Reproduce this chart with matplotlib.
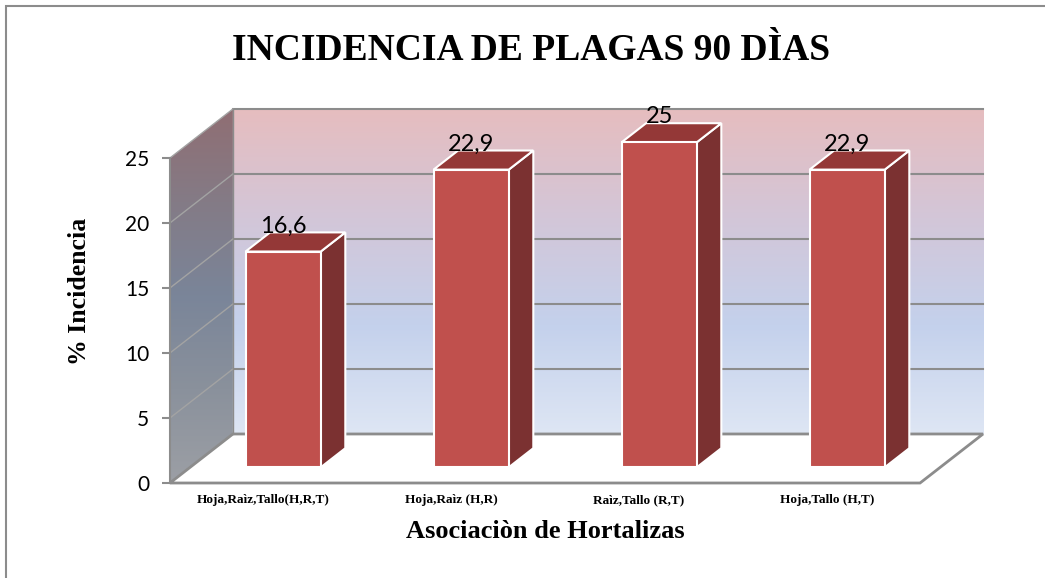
import numpy as np
import matplotlib.pyplot as plt
from matplotlib.colors import LinearSegmentedColormap
from matplotlib.patches import Polygon, Rectangle

# data
categorias = ["Hoja,Raìz,Tallo(H,R,T)", "Hoja,Raìz (H,R)", "Raìz,Tallo (R,T)", "Hoja,Tallo (H,T)"]
incidencia = [16.6, 22.9, 25, 22.9]
etiquetas = ["16,6", "22,9", "25", "22,9"]
yticks = [0, 5, 10, 15, 20, 25]

# 3d look: depth offsets in data units
DX = 0.335    # depth shift along x
DY = 3.77     # depth shift along y
F0 = 0.32     # where the bar front sits in depth
FB = 0.39     # bar depth
W = 0.40      # bar width
XL, XR = -0.495, 3.495
YMAX = 25

fig = plt.figure(figsize=(10.45, 5.78), dpi=100)
ax = fig.add_axes([0, 0, 1, 1])
ax.set_xlim(-263 / 188, (1045 - 263) / 188)
ax.set_ylim(-95 / 13, 483 / 13)

# outer frame (only top and left visible)
fig.patches.append(Rectangle((6 / 1045, -0.1), 1.2, 1.1 - 6 / 578, transform=fig.transFigure,
                             fill=False, edgecolor="#8C8C8C", lw=1.5))

# back wall gradient
back = LinearSegmentedColormap.from_list("back", ["#DEE6F4", "#C4D1EC", "#D3C6D8", "#E6BDBF"])
grad = np.linspace(0, 1, 256).reshape(-1, 1)
ax.imshow(grad, cmap=back, origin="lower", aspect="auto",
          extent=[XL + DX, XR + DX, DY, YMAX + DY], zorder=1)

# left wall gradient, clipped to parallelogram
left = LinearSegmentedColormap.from_list("left", ["#9C9FA5", "#8A919C", "#7A8599", "#847B86", "#906E73"])
lw_poly = Polygon([(XL, 0), (XL, YMAX), (XL + DX, YMAX + DY), (XL + DX, DY)],
                  closed=True, facecolor="none", edgecolor="none")
ax.add_patch(lw_poly)
im = ax.imshow(grad, cmap=left, origin="lower", aspect="auto",
               extent=[XL, XL + DX, 0, YMAX + DY], zorder=1)
im.set_clip_path(lw_poly)

# floor
ax.add_patch(Polygon([(XL, 0), (XR, 0), (XR + DX, DY), (XL + DX, DY)], closed=True,
                     facecolor="white", edgecolor="#8C8C8C", lw=2, zorder=2))

# gridlines on back and left wall
for v in yticks[1:]:
    ax.plot([XL + DX, XR + DX], [v + DY, v + DY], color="#8C8C8C", lw=1.5, zorder=2)
    ax.plot([XL, XL + DX], [v, v + DY], color="#A3A3A3", lw=1, zorder=2)
ax.plot([XL + DX, XL + DX], [DY, YMAX + DY], color="#8C8C8C", lw=1, zorder=2)

# bars
x = np.arange(len(incidencia))
xb = x + F0 * DX
yb = F0 * DY
ddx, ddy = FB * DX, FB * DY
for xi, v in zip(xb, incidencia):
    xl, xr, h = xi - W / 2, xi + W / 2, v + yb
    ax.add_patch(Polygon([(xr, yb), (xr, h), (xr + ddx, h + ddy), (xr + ddx, yb + ddy)],
                         closed=True, facecolor="#7B3131", edgecolor="white", lw=1.5, zorder=3))
    ax.add_patch(Polygon([(xl, h), (xr, h), (xr + ddx, h + ddy), (xl + ddx, h + ddy)],
                         closed=True, facecolor="#943837", edgecolor="white", lw=1.5, zorder=3))
ax.bar(xb, incidencia, width=W, bottom=yb, color="#C0504D", edgecolor="white", lw=1.5, zorder=4)

for xi, v, t in zip(xb, incidencia, etiquetas):
    ax.text(xi, v + yb + 1.95, t, ha="center", va="center", fontsize=17, family="Lato", zorder=5)

# axes: left spine as the value axis, bottom for categories
for s in ["top", "right"]:
    ax.spines[s].set_visible(False)
ax.spines["left"].set_position(("data", XL))
ax.spines["left"].set_bounds(0, YMAX)
ax.spines["left"].set_color("#8C8C8C")
ax.spines["left"].set_linewidth(1.5)
ax.spines["left"].set_zorder(2)
ax.spines["bottom"].set_position(("data", 0))
ax.spines["bottom"].set_color("none")
ax.set_yticks(yticks)
ax.set_yticklabels([str(v) for v in yticks], fontsize=15, family="Lato")
ax.tick_params(axis="y", direction="out", length=6, width=1.5, color="#8C8C8C", pad=9)
ax.set_xticks(x)
ax.set_xticklabels(categorias, fontsize=9.5, family="Liberation Serif", fontweight="bold")
ax.tick_params(axis="x", length=0, pad=8)

fig.text(531 / 1045, 1 - 51 / 578, "INCIDENCIA DE PLAGAS 90 DÌAS", ha="center", va="center",
         fontsize=27, fontweight="bold", family="Liberation Serif")
fig.text(79 / 1045, 1 - 291 / 578, "% Incidencia", ha="center", va="center", rotation=90,
         fontsize=18.5, fontweight="bold", family="Liberation Serif")
fig.text(545 / 1045, 1 - 531 / 578, "Asociaciòn de Hortalizas", ha="center", va="center",
         fontsize=19, fontweight="bold", family="Liberation Serif")

fig.savefig("out.png", dpi=100)
